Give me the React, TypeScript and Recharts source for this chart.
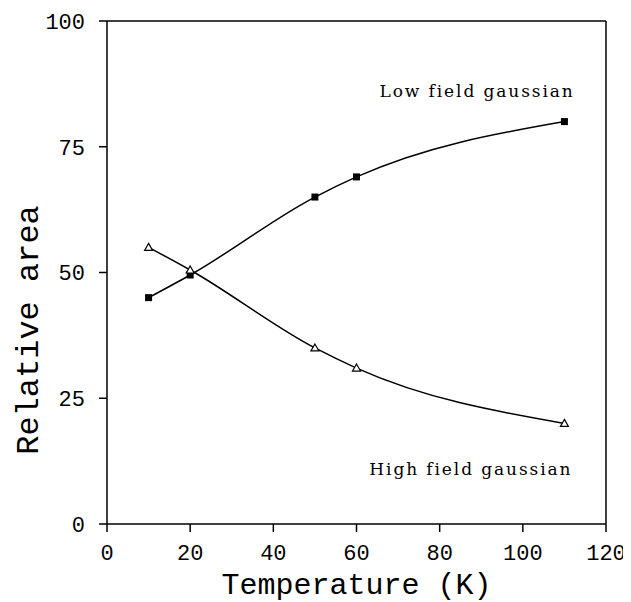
import { LineChart, Line, XAxis, YAxis, ReferenceLine, ReferenceDot } from "recharts"

const temperatures = [10, 20, 50, 60, 110]
const lowField = [45, 49.5, 65, 69, 80]
const highField = [55, 50.5, 35, 31, 20]
const xTicks = [0, 20, 40, 60, 80, 100, 120]
const yTicks = [0, 25, 50, 75, 100]

const data = temperatures.map((t, i) => ({ t, low: lowField[i], high: highField[i] }))

const mono = "'Liberation Mono', 'Courier New', monospace"
const serif = "'DejaVu Serif', serif"

const Square = (props: any) => {
  const { cx, cy } = props
  if (cx == null || cy == null) return null
  return <rect x={cx - 3.5} y={cy - 3.5} width={7} height={7} fill="#000" />
}

const Triangle = (props: any) => {
  const { cx, cy } = props
  if (cx == null || cy == null) return null
  return (
    <path
      d={`M${cx},${cy - 4} L${cx + 4},${cy + 3} L${cx - 4},${cy + 3} Z`}
      fill="#fff"
      stroke="#000"
      strokeWidth={1.2}
    />
  )
}

const note = (text: string) => (props: any) => {
  const { viewBox } = props
  return (
    <text
      x={viewBox.x + viewBox.width / 2}
      y={viewBox.y + viewBox.height / 2}
      textAnchor="middle"
      dominantBaseline="central"
      fontFamily={serif}
      fontSize={17}
      letterSpacing={1.9}
      fill="#000"
    >
      {text}
    </text>
  )
}

const YTitle = () => (
  <text
    x={21}
    y={322}
    transform="rotate(-90 21 322)"
    textAnchor="middle"
    dominantBaseline="central"
    fontFamily={mono}
    fontSize={32}
    fill="#000"
  >
    Relative area
  </text>
)

export default function App() {
  return (
    <div style={{ width: 623, height: 594 }}>
      <LineChart width={623} height={594} data={data} margin={{ top: 13, right: 25, left: 0, bottom: 8 }}>
        <XAxis
          dataKey="t"
          type="number"
          domain={[0, 120]}
          ticks={xTicks}
          height={70}
          stroke="#000"
          strokeWidth={1.5}
          tickSize={8}
          tickMargin={12}
          tick={{ fill: "#000", fontFamily: mono, fontSize: 22 }}
          label={{ value: "Temperature (K)", position: "insideBottom", offset: 0, fill: "#000", fontFamily: mono, fontSize: 30 }}
        />
        <YAxis
          type="number"
          domain={[0, 100]}
          ticks={yTicks}
          width={99}
          stroke="#000"
          strokeWidth={1.5}
          tickSize={8}
          tickMargin={14}
          tick={{ fill: "#000", fontFamily: mono, fontSize: 22 }}
          label={<YTitle />}
        />
        <ReferenceLine y={100} stroke="#000" strokeWidth={1.5} />
        <ReferenceLine x={120} stroke="#000" strokeWidth={1.5} />
        <ReferenceDot x={89} y={86} r={0} fill="none" stroke="none" label={note("Low field gaussian")} />
        <ReferenceDot x={87.5} y={11} r={0} fill="none" stroke="none" label={note("High field gaussian")} />
        <Line
          dataKey="low"
          type="monotone"
          stroke="#000"
          strokeWidth={1.5}
          dot={<Square />}
          isAnimationActive={false}
        />
        <Line
          dataKey="high"
          type="monotone"
          stroke="#000"
          strokeWidth={1.5}
          dot={<Triangle />}
          isAnimationActive={false}
        />
      </LineChart>
    </div>
  )
}
